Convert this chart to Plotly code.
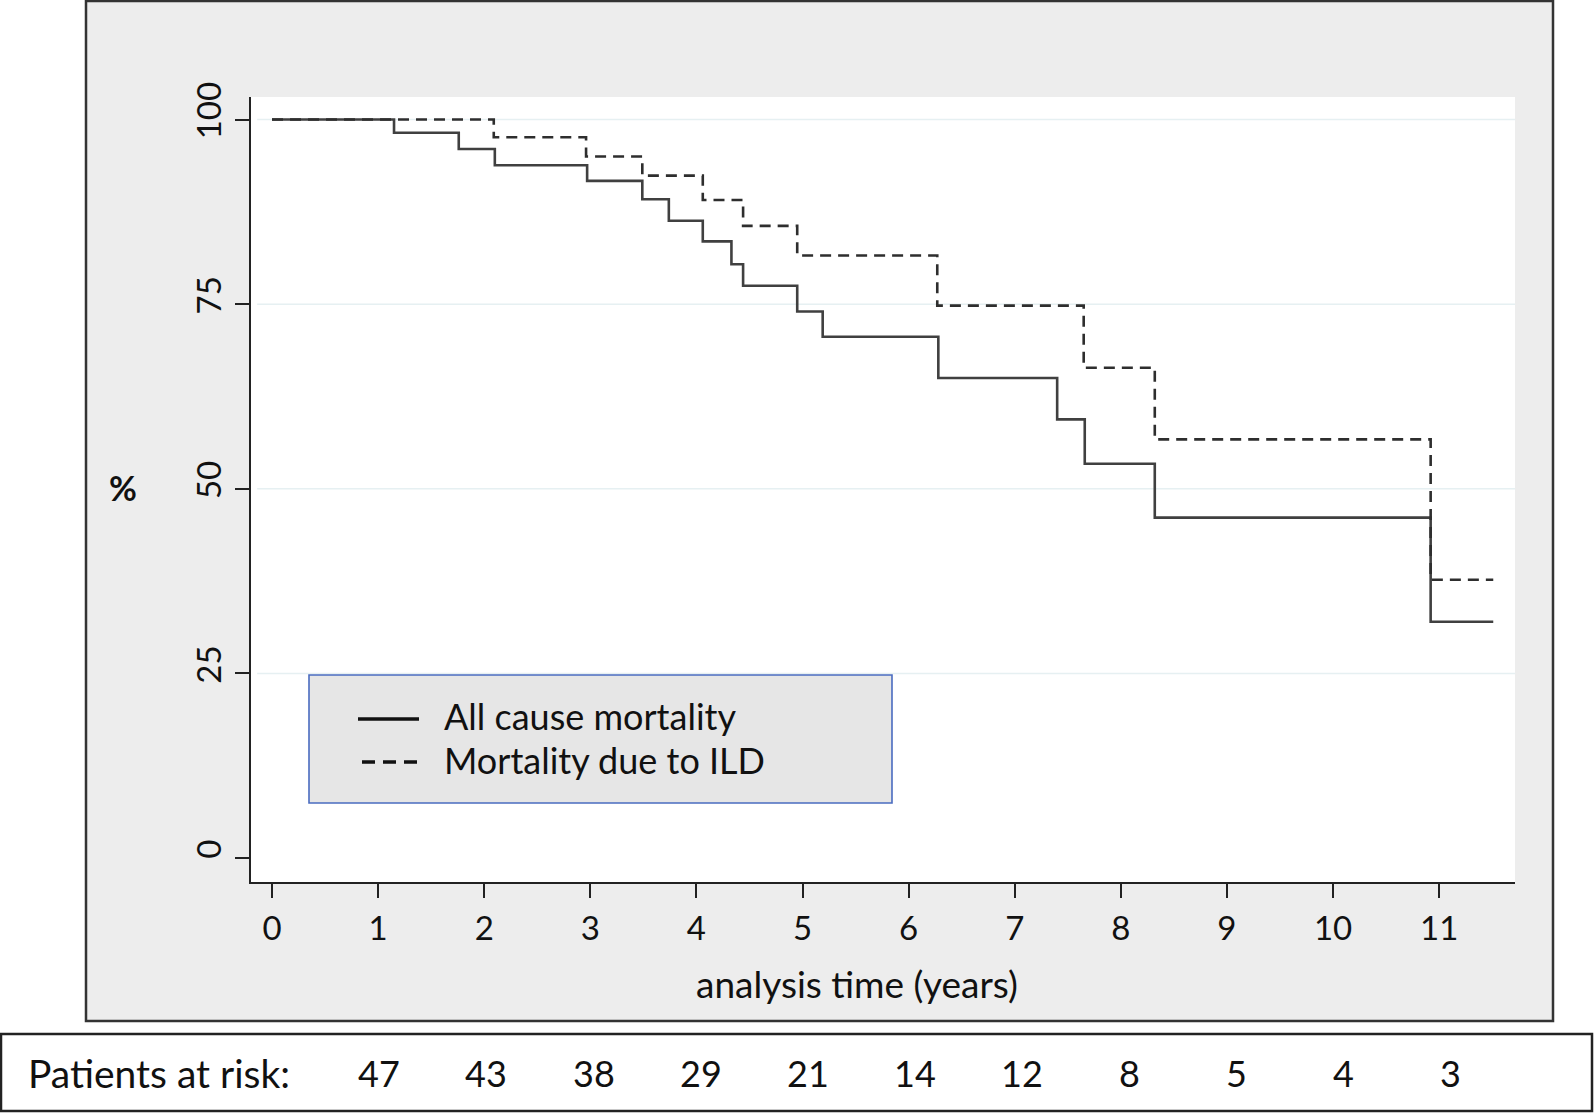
import plotly.graph_objects as go

# ---------------- data ----------------
all_cause_time = [0, 1.15, 1.76, 2.10, 2.97, 3.49, 3.74, 4.06, 4.33, 4.44, 4.95, 5.19, 6.28, 7.40, 7.66, 8.32, 10.92, 11.51]
all_cause_surv = [100, 98.2, 96.0, 93.8, 91.7, 89.2, 86.3, 83.5, 80.4, 77.5, 74.0, 70.6, 65.0, 59.4, 53.4, 46.1, 32.0, 32.0]

ild_time = [0, 2.09, 2.96, 3.49, 4.06, 4.44, 4.95, 6.27, 7.65, 8.32, 10.92, 11.51]
ild_surv = [100, 97.6, 95.0, 92.4, 89.1, 85.6, 81.6, 74.8, 66.4, 56.7, 37.7, 37.7]

x_ticks = list(range(0, 12))
y_ticks = [0, 25, 50, 75, 100]
grid_vals = [25, 50, 75, 100]

risk_years = list(range(1, 12))
risk_counts = [47, 43, 38, 29, 21, 14, 12, 8, 5, 4, 3]

series_names = ["All cause mortality", "Mortality due to ILD"]

# ---------------- layout helpers ----------------
W, H = 1594, 1113
L, R, T, B = 251, 1515, 97, 882   # plot area in pixels


def px(x):
    return (x - L) / (R - L)


def py(y):
    return (B - y) / (B - T)


FONT = "Lato"
TXT = "#111111"

fig = go.Figure()

fig.add_trace(go.Scatter(
    x=all_cause_time, y=all_cause_surv, mode="lines", line_shape="hv",
    line=dict(color="#404040", width=2.6), name=series_names[0], showlegend=False,
))
fig.add_trace(go.Scatter(
    x=ild_time, y=ild_surv, mode="lines", line_shape="hv",
    line=dict(color="#2e2e2e", width=2.6, dash="11px,7px"), name=series_names[1], showlegend=False,
))

shapes = []
# outer grey panel
shapes.append(dict(type="rect", xref="paper", yref="paper", layer="below",
                   x0=px(86), x1=px(1553), y0=py(1), y1=py(1021),
                   fillcolor="#ededed", line=dict(color="#333333", width=2.5)))
# white plot area
shapes.append(dict(type="rect", xref="paper", yref="paper", layer="below",
                   x0=0, x1=1, y0=0, y1=1, fillcolor="white", line=dict(width=0)))
# gridlines
for g in grid_vals:
    shapes.append(dict(type="line", xref="x", yref="y", layer="below",
                       x0=-0.14, x1=11.715, y0=g, y1=g,
                       line=dict(color="#e6f0f2", width=1.5)))
# patients at risk box
shapes.append(dict(type="rect", xref="paper", yref="paper", layer="above",
                   x0=px(1), x1=px(1592), y0=py(1034), y1=py(1111),
                   fillcolor="white", line=dict(color="#222222", width=2.5)))
# legend box
shapes.append(dict(type="rect", xref="paper", yref="paper", layer="above",
                   x0=px(309), x1=px(892), y0=py(675), y1=py(803),
                   fillcolor="#e6e6e6", line=dict(color="#4a6cc0", width=1.6)))
shapes.append(dict(type="line", xref="paper", yref="paper", layer="above",
                   x0=px(358), x1=px(419), y0=py(719), y1=py(719),
                   line=dict(color="#111111", width=3.5)))
shapes.append(dict(type="line", xref="paper", yref="paper", layer="above",
                   x0=px(362), x1=px(423), y0=py(762), y1=py(762),
                   line=dict(color="#111111", width=3.5, dash="13px,8px")))

annotations = []
annotations.append(dict(text="<b>%</b>", xref="paper", yref="paper", x=px(123), y=py(487),
                        showarrow=False, font=dict(family=FONT, size=34, color=TXT),
                        xanchor="center", yanchor="middle"))
annotations.append(dict(text="analysis time (years)", xref="paper", yref="paper",
                        x=px(857), y=py(983), showarrow=False,
                        font=dict(family=FONT, size=37, color=TXT),
                        xanchor="center", yanchor="middle"))
annotations.append(dict(text=series_names[0], xref="paper", yref="paper",
                        x=px(442), y=py(716), showarrow=False,
                        font=dict(family=FONT, size=36, color=TXT),
                        xanchor="left", yanchor="middle"))
annotations.append(dict(text=series_names[1], xref="paper", yref="paper",
                        x=px(442), y=py(760), showarrow=False,
                        font=dict(family=FONT, size=36, color=TXT),
                        xanchor="left", yanchor="middle"))
annotations.append(dict(text="Patients at risk:", xref="paper", yref="paper",
                        x=px(26), y=py(1073), showarrow=False,
                        font=dict(family=FONT, size=39, color=TXT),
                        xanchor="left", yanchor="middle"))
for yr, n in zip(risk_years, risk_counts):
    annotations.append(dict(text=str(n), xref="x", yref="paper",
                            x=yr * 1.01, y=py(1073), showarrow=False,
                            font=dict(family=FONT, size=36, color=TXT),
                            xanchor="center", yanchor="middle"))

fig.update_layout(
    width=W, height=H,
    margin=dict(l=L, r=W - R, t=T, b=H - B, pad=0),
    paper_bgcolor="white", plot_bgcolor="white",
    showlegend=False,
    shapes=shapes, annotations=annotations,
    font=dict(family=FONT, color=TXT),
)

fig.update_xaxes(
    range=[-0.198, 11.715], tickvals=x_ticks, ticktext=[str(v) for v in x_ticks],
    showgrid=False, zeroline=False, showline=True, linecolor="#222222", linewidth=2.2,
    ticks="outside", ticklen=14, tickwidth=2.2, tickcolor="#222222",
    tickfont=dict(family=FONT, size=33, color=TXT), ticklabelstandoff=2,
)
fig.update_yaxes(
    range=[-3.23, 103.05], tickvals=y_ticks, ticktext=[str(v) for v in y_ticks],
    showgrid=False, zeroline=False, showline=True, linecolor="#222222", linewidth=2.2,
    ticks="outside", ticklen=14, tickwidth=2.2, tickcolor="#222222",
    tickangle=-90, ticklabelshift=-4, ticklabelstandoff=1,
    tickfont=dict(family=FONT, size=33, color=TXT),
)

fig.write_html("out.html", config={"displayModeBar": False},
               post_script="document.body.style.margin='0';document.body.style.overflow='hidden';")
